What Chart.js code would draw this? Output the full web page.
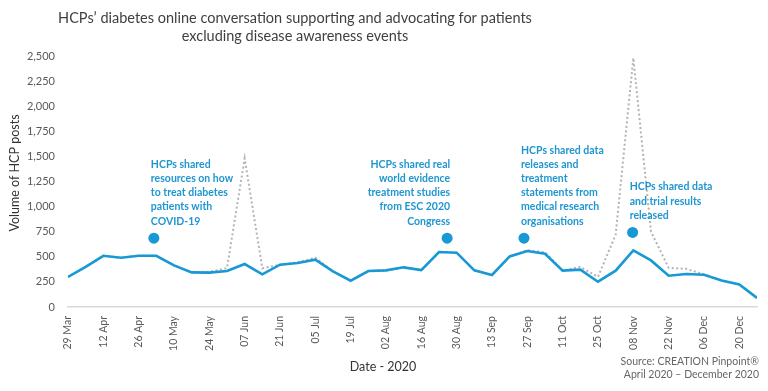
<!DOCTYPE html>
<html>
<head>
<meta charset="utf-8">
<script src="https://cdn.jsdelivr.net/npm/chart.js@4"></script>
<style>
  html, body { margin: 0; padding: 0; background: #fff; }
  #wrap { width: 768px; height: 391px; }
</style>
</head>
<body>
<div id="wrap"><canvas id="hcp-chart" width="768" height="391"></canvas></div>
<script>
// x tick labels, one every two weeks (weekly points, index 0 = 29 Mar)
const tickLabels = ['29 Mar', '12 Apr', '26 Apr', '10 May', '24 May', '07 Jun', '21 Jun', '05 Jul', '19 Jul', '02 Aug',
  '16 Aug', '30 Aug', '13 Sep', '27 Sep', '11 Oct', '25 Oct', '08 Nov', '22 Nov', '06 Dec', '20 Dec'];

// weekly HCP posts, excluding disease awareness events (blue line)
const excludingEvents = [300, 400, 510, 490, 510, 510, 415, 345, 342, 358, 428, 325, 421, 438, 471, 355, 262, 358, 365, 395,
  368, 548, 541, 365, 319, 504, 558, 531, 362, 372, 252, 362, 564, 464, 312, 329, 322, 265, 225, 90];

// weekly HCP posts including disease awareness events (grey dotted line)
const includingEvents = [300, 400, 510, 490, 510, 510, 415, 345, 350, 387, 1480, 385, 421, 445, 490, 355, 262, 358, 365, 395,
  368, 548, 541, 365, 319, 504, 565, 545, 362, 400, 300, 720, 2480, 750, 390, 380, 325, 265, 225, 90];

// annotation markers: week position and value
const noteWeeks = [4.86, 21.46, 25.81, 31.96];
const noteValues = [686, 686, 686, 743];
const noteTexts = [
  ['HCPs shared', 'resources on how', 'to treat diabetes', 'patients with', 'COVID-19'],
  ['HCPs shared real', 'world evidence', 'treatment studies', 'from ESC 2020', 'Congress'],
  ['HCPs shared data', 'releases and', 'treatment', 'statements from', 'medical research', 'organisations'],
  ['HCPs shared data', 'and trial results', 'released']
];
const noteAlign = ['left', 'right', 'left', 'left'];

const BLUE = '#1799d5';
const FONT = 'Lato, "Open Sans", sans-serif';

const textPlugin = {
  id: 'texts',
  afterDraw(chart) {
    const ctx = chart.ctx;
    const x = chart.scales.x, y = chart.scales.y;
    ctx.save();
    ctx.textBaseline = 'middle';

    // title
    ctx.fillStyle = '#404040';
    ctx.font = '14.5px ' + FONT;
    ctx.textAlign = 'center';
    ctx.fillText('HCPs\u2019 diabetes online conversation supporting and advocating for patients', 295, 18);
    ctx.fillText('excluding disease awareness events', 295, 36);

    // axis titles
    ctx.font = '12.5px ' + FONT;
    ctx.fillStyle = '#333';
    ctx.fillText('Date - 2020', 383, 367);
    ctx.save();
    ctx.translate(15, 173);
    ctx.rotate(-Math.PI / 2);
    ctx.fillText('Volume of HCP posts', 0, 0);
    ctx.restore();

    // source
    ctx.font = '10.5px ' + FONT;
    ctx.fillStyle = '#666';
    ctx.textAlign = 'right';
    ctx.fillText('Source: CREATION Pinpoint\u00ae', 759, 362);
    ctx.fillText('April 2020 \u2013 December 2020', 759, 375);

    // annotations, anchored above their markers
    ctx.font = 'bold 10.5px ' + FONT;
    ctx.fillStyle = '#1f96d0';
    noteTexts.forEach((lines, k) => {
      const px = x.getPixelForValue(noteWeeks[k]);
      const py = y.getPixelForValue(noteValues[k]);
      const align = noteAlign[k];
      ctx.textAlign = align;
      const tx = align === 'left' ? px - 3 : px + 3;
      const last = py - 17;
      lines.forEach((t, j) => {
        ctx.fillText(t, tx, last - (lines.length - 1 - j) * 14.2);
      });
    });
    ctx.restore();
  }
};

new Chart(document.getElementById('hcp-chart').getContext('2d'), {
  type: 'line',
  data: {
    datasets: [
      {
        label: 'Excluding disease awareness events',
        data: excludingEvents.map((v, i) => ({ x: i, y: v })),
        borderColor: BLUE,
        borderWidth: 2.6,
        pointRadius: 0,
        tension: 0
      },
      {
        label: 'Including disease awareness events',
        data: includingEvents.map((v, i) => ({ x: i, y: v })),
        borderColor: '#b3b3b3',
        borderWidth: 2,
        borderDash: [2, 2.5],
        pointRadius: 0,
        tension: 0
      },
      {
        label: 'Notes',
        data: noteWeeks.map((w, i) => ({ x: w, y: noteValues[i] })),
        showLine: false,
        pointRadius: 5.5,
        pointBackgroundColor: BLUE,
        pointBorderWidth: 0
      }
    ]
  },
  plugins: [textPlugin],
  options: {
    responsive: false,
    animation: false,
    events: [],
    layout: { padding: { top: 56, right: 11, left: 0, bottom: 0 } },
    plugins: {
      legend: { display: false },
      title: { display: false },
      tooltip: { enabled: false }
    },
    scales: {
      x: {
        type: 'linear',
        min: 0,
        max: 39,
        afterFit: s => { s.height = 84; },
        grid: { display: false, drawTicks: false },
        border: { display: true, color: '#d9d9d9', width: 1.5 },
        ticks: {
          stepSize: 2,
          includeBounds: false,
          autoSkip: false,
          minRotation: 90,
          maxRotation: 90,
          padding: 9,
          color: '#595959',
          font: { family: FONT, size: 10.5 },
          callback: v => tickLabels[v / 2]
        }
      },
      y: {
        min: 0,
        max: 2500,
        afterFit: s => { s.width = 68; },
        grid: { display: false, drawTicks: false },
        border: { display: false },
        ticks: {
          stepSize: 250,
          padding: 13,
          color: '#595959',
          font: { family: FONT, size: 11 },
          callback: v => v.toLocaleString('en-US')
        }
      }
    }
  }
});
</script>
</body>
</html>
